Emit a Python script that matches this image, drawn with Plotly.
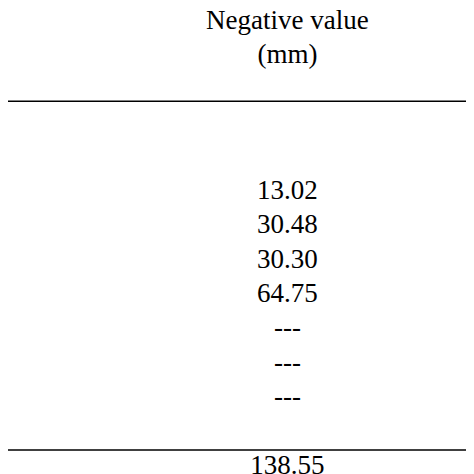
import plotly.graph_objects as go

header = ["Negative value", "(mm)"]
values = ["13.02", "30.48", "30.30", "64.75", "---", "---", "---"]
total = "138.55"

W = H = 474
col_x = 278
font = dict(family="Liberation Serif, Times New Roman, serif", size=27, color="black")

fig = go.Figure()
fig.add_trace(go.Scatter(
    x=[col_x] * len(header), y=[22 + 33 * i for i in range(len(header))],
    mode="text", text=header, textfont=font, hoverinfo="skip"))
fig.add_trace(go.Scatter(
    x=[col_x] * len(values), y=[186 + 33.2 * i for i in range(len(values))],
    mode="text", text=values, textfont=font, hoverinfo="skip"))
fig.add_trace(go.Scatter(
    x=[col_x], y=[452], mode="text", text=[total], textfont=font, hoverinfo="skip"))

for y in (98, 435):
    fig.add_shape(type="line", x0=-20, x1=W + 20, y0=y, y1=y,
                  line=dict(color="black", width=1.5))

fig.update_xaxes(range=[8, 466], visible=False)
fig.update_yaxes(range=[466, 8], visible=False)
fig.update_layout(width=W, height=H, margin=dict(l=0, r=0, t=0, b=0),
                  showlegend=False, plot_bgcolor="white", paper_bgcolor="white")
fig.write_html("out.html")
